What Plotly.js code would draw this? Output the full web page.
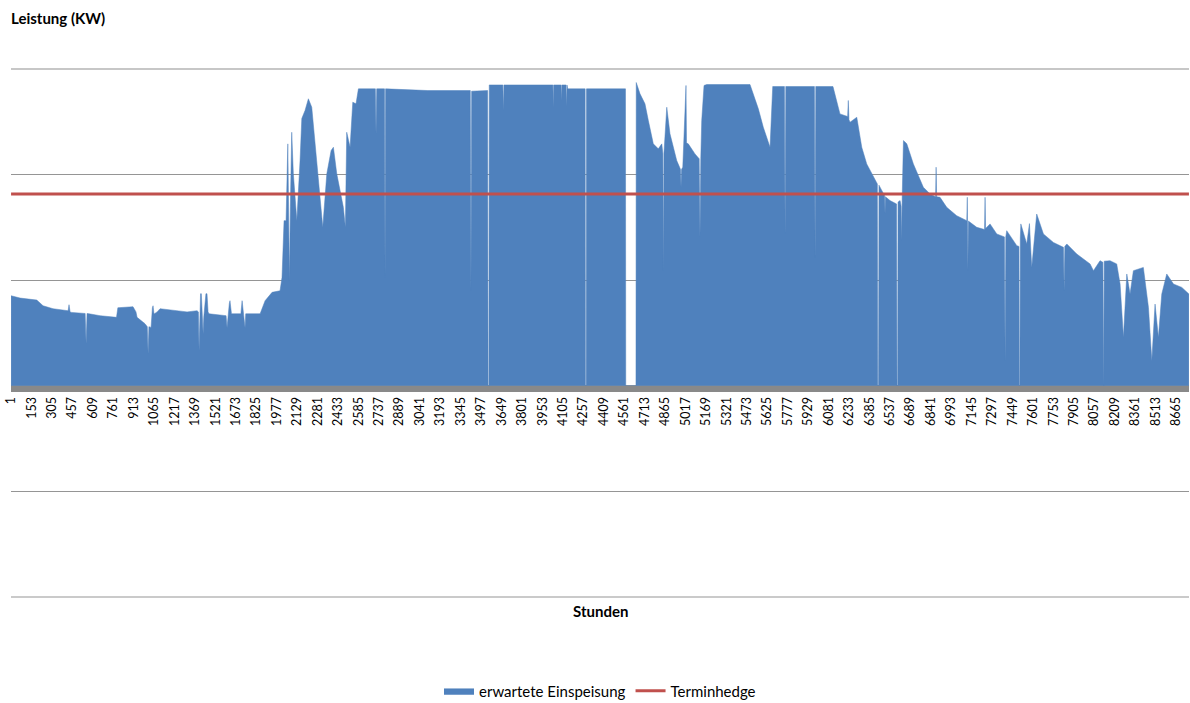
<!DOCTYPE html>
<html>
<head>
<meta charset="utf-8">
<script src="https://cdn.plot.ly/plotly-3.0.1.min.js"></script>
<style>html,body{margin:0;padding:0;background:#fff;}#chart{width:1190px;height:703px;}</style>
</head>
<body>
<div id="chart"></div>
<script>
// [Stunde, erwartete Einspeisung in kW]
const einspeisungProfil = [
[1,853],[68,831],[192,812],[239,758],[313,730],[415,711],[425,711],[432,768],[440,700],[452,695],[536,685],[552,685],[559,398],[566,685],[581,682],[663,664],[785,648],[795,739],[908,749],[930,700],[938,648],[997,588],[1014,560],[1020,303],[1026,560],[1042,553],[1052,740],[1057,758],[1064,680],[1087,700],[1109,730],[1258,711],[1310,700],[1384,711],[1394,700],[1399,332],[1405,700],[1410,872],[1416,872],[1424,600],[1429,493],[1434,650],[1450,872],[1458,872],[1466,700],[1473,682],[1577,664],[1600,664],[1607,550],[1614,664],[1624,780],[1629,806],[1640,682],[1652,682],[1710,682],[1719,806],[1730,682],[1737,600],[1741,550],[1746,682],[1763,682],[1853,682],[1890,806],[1942,885],[2001,900],[2016,1027],[2031,1564],[2046,1564],[2059,2291],[2066,1500],[2071,995],[2078,1700],[2088,2401],[2100,2010],[2126,1564],[2150,2133],[2163,2531],[2187,2607],[2212,2718],[2237,2638],[2274,2133],[2306,1754],[2319,1501],[2349,2007],[2381,2228],[2398,2259],[2423,2007],[2472,1690],[2487,1501],[2497,2401],[2522,2259],[2542,2686],[2566,2670],[2584,2812],
[2710,2812],[2715,2386],[2720,2812],[2778,2812],[2782,1027],[2786,2812],[3000,2800],[3100,2796],[3416,2796],[3421,900],[3426,2790],[3545,2796],[3548,0],[3554,0],[3557,2849],[3658,2849],[3662,2607],[3666,2849],[4030,2849],[4033,2638],[4036,2849],[4090,2849],[4093,2700],[4096,2849],[4128,2849],[4132,2638],[4135,2849],[4140,2812],[4270,2812],[4272,0],[4278,0],[4280,2812],[4570,2812],[4572,0],[4648,0],[4650,2872],
[4678,2765],[4715,2670],[4740,2512],[4777,2291],[4814,2244],[4840,2291],[4848,2200],[4852,1090],[4856,2200],[4877,2638],[4901,2386],[4951,2133],[4979,2050],[4983,1880],[4987,2050],[4996,2070],[5020,2844],[5024,2300],[5037,2291],[5087,2196],[5118,2150],[5124,1406],[5130,2150],[5137,2512],[5154,2844],[5174,2853],[5496,2853],[5521,2765],[5558,2623],[5595,2448],[5645,2259],[5665,2834],[5752,2834],[5757,1438],[5762,2834],
[5787,2834],[5975,2834],[5980,1213],[5985,2834],[6113,2834],[6140,2702],[6165,2575],[6222,2550],[6227,2702],[6232,2520],[6240,2496],[6290,2543],[6327,2259],[6364,2101],[6413,1991],[6443,1912],[6446,0],[6452,0],[6455,1900],[6487,1817],[6497,1800],[6500,1627],[6503,1790],[6537,1754],[6586,1722],[6589,0],[6594,0],[6597,1740],[6612,1754],[6620,1700],[6624,1374],[6628,1800],[6637,2322],[6662,2291],[6711,2101],[6785,1880],[6835,1817],[6876,1790],[6880,2070],[6884,1790],[6909,1785],[6959,1690],[7033,1611],[7108,1564],[7112,1785],[7116,1090],[7120,1560],[7182,1501],[7240,1480],[7244,1785],[7248,1490],[7281,1533],[7331,1438],[7388,1410],[7393,237],[7398,1410],[7405,1469],[7480,1327],[7496,1320],[7499,0],[7503,0],[7506,1400],[7510,1533],[7554,1343],[7574,1536],[7591,1121],[7628,1627],[7678,1438],[7752,1358],[7827,1311],[7832,900],[7837,1320],[7852,1343],[7926,1248],[8025,1154],[8050,1090],[8099,1185],[8120,1170],[8122,0],[8127,0],[8130,1180],[8173,1185],[8223,1154],[8248,964],[8273,458],[8298,1059],[8322,869],[8347,1090],[8421,1121],[8459,742],[8484,237],[8508,774],[8533,458],[8558,869],[8595,1059],[8645,964],[8707,932],[8760,869]
];
const stunden = einspeisungProfil.map(p => p[0]);
const einspeisungKW = einspeisungProfil.map(p => p[1]);

const terminhedgeStunden = [1, 8760];
const terminhedgeKW = [1817, 1817];

const tickStunden = [1,153,305,457,609,761,913,1065,1217,1369,1521,1673,1825,1977,2129,2281,2433,2585,2737,2889,3041,3193,3345,3497,3649,3801,3953,4105,4257,4409,4561,4713,4865,5017,5169,5321,5473,5625,5777,5929,6081,6233,6385,6537,6689,6841,6993,7145,7297,7449,7601,7753,7905,8057,8209,8361,8513,8665];
const tickTexte = tickStunden.map(String);

const FONT = 'Lato, "Open Sans", sans-serif';

const traces = [
  {
    type: 'scatter', mode: 'lines', name: 'erwartete Einspeisung',
    x: stunden, y: einspeisungKW,
    fill: 'tozeroy', fillcolor: '#4f81bd',
    line: {color: '#4f81bd', width: 0.5}
  },
  {
    type: 'scatter', mode: 'lines', name: 'Terminhedge',
    x: terminhedgeStunden, y: terminhedgeKW,
    line: {color: '#c0504d', width: 3}
  }
];

const layout = {
  width: 1190, height: 703,
  margin: {l: 11, r: 1, t: 69, b: 106, pad: 0, autoexpand: false},
  paper_bgcolor: '#ffffff', plot_bgcolor: '#ffffff',
  font: {family: FONT, size: 12, color: '#000'},
  showlegend: true,
  hovermode: false,
  xaxis: {
    type: 'linear', range: [0.5, 8760.5],
    tickmode: 'array', tickvals: tickStunden, ticktext: tickTexte,
    tickangle: -90, tickfont: {family: FONT, size: 12.5, color: '#000'},
    showgrid: false, zeroline: false,
    showline: true, linecolor: '#898989', linewidth: 6,
    ticks: '', anchor: 'free', position: 0.394, automargin: false
  },
  yaxis: {
    range: [-2000, 3000], dtick: 1000, tick0: 0,
    showticklabels: false, showgrid: true, gridcolor: '#959595', gridwidth: 1,
    zeroline: false, showline: false, ticks: '', automargin: false
  },
  legend: {
    orientation: 'h', x: 0.5, xanchor: 'center', y: -0.178, yanchor: 'middle',
    font: {family: FONT, size: 15, color: '#000'}, itemwidth: 30
  },
  shapes: [
    {type: 'line', xref: 'paper', yref: 'paper', x0: 0, x1: 1, y0: 1, y1: 1,
     line: {color: '#b4b4b4', width: 1.5}, layer: 'below'},
    {type: 'line', xref: 'paper', yref: 'paper', x0: 0, x1: 1, y0: 0, y1: 0,
     line: {color: '#959595', width: 1}, layer: 'below'}
  ],
  annotations: [
    {text: '<b>Leistung (KW)</b>', xref: 'paper', yref: 'paper', x: -0.002, y: 1.0966,
     xanchor: 'left', yanchor: 'middle', showarrow: false, font: {family: FONT, size: 15, color: '#000'}},
    {text: '<b>Stunden</b>', xref: 'paper', yref: 'paper', x: 0.5, y: -0.0265,
     xanchor: 'center', yanchor: 'middle', showarrow: false, font: {family: FONT, size: 15, color: '#000'}}
  ]
};

Plotly.newPlot('chart', traces, layout, {staticPlot: true, displayModeBar: false});
</script>
</body>
</html>
